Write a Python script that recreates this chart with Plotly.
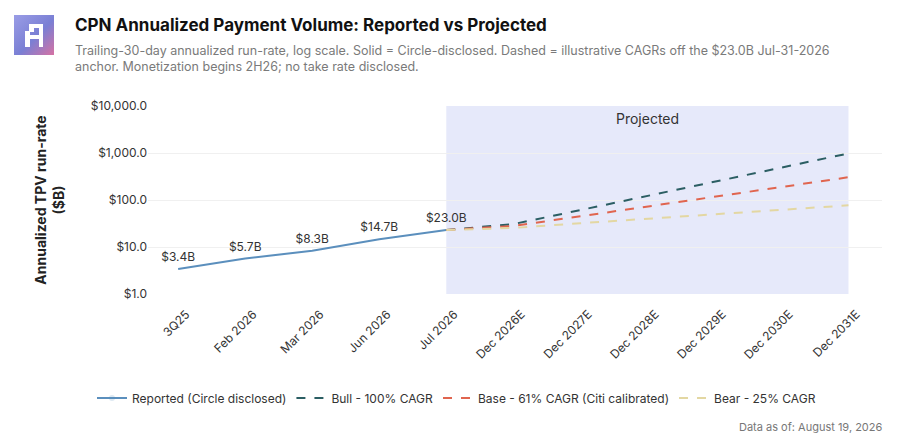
import base64
import plotly.graph_objects as go

# categories on the x axis
periods = ["3Q25", "Feb 2026", "Mar 2026", "Jun 2026", "Jul 2026",
           "Dec 2026E", "Dec 2027E", "Dec 2028E", "Dec 2029E", "Dec 2030E", "Dec 2031E"]

# reported run-rate ($B)
reported_x = periods[:5]
reported_y = [3.4, 5.7, 8.3, 14.7, 23.0]
reported_labels = ["$3.4B", "$5.7B", "$8.3B", "$14.7B", "$23.0B"]

# projected scenarios, anchored at Jul 2026
proj_x = periods[4:]
bull_y = [23.0, 30.7, 61.0, 123.0, 245.0, 490.0, 980.0]
base_y = [23.0, 28.1, 45.0, 73.0, 118.0, 190.0, 305.0]
bear_y = [23.0, 25.4, 32.0, 40.0, 50.0, 62.0, 77.0]

FONT = "Inter"

# plot area in pixels (used to place header / footer in paper coords)
L, R, T, B = 148, 882, 106, 294
def px(x):
    return (x - L) / (R - L)
def py(y):
    return (B - y) / (B - T)

fig = go.Figure()

fig.add_trace(go.Scatter(
    x=reported_x, y=reported_y, mode="lines+markers+text",
    name="Reported (Circle disclosed)",
    line=dict(color="#5b8fbd", width=2),
    marker=dict(size=6, opacity=0),
    text=reported_labels, textposition="top center",
    textfont=dict(size=12, color="#333333"),
))
fig.add_trace(go.Scatter(
    x=proj_x, y=bull_y, mode="lines", name="Bull - 100% CAGR",
    line=dict(color="#2b5e63", width=2, dash="dash"),
))
fig.add_trace(go.Scatter(
    x=proj_x, y=base_y, mode="lines", name="Base - 61% CAGR (Citi calibrated)",
    line=dict(color="#e0654f", width=2, dash="dash"),
))
fig.add_trace(go.Scatter(
    x=proj_x, y=bear_y, mode="lines", name="Bear - 25% CAGR",
    line=dict(color="#e3d7a2", width=2, dash="dash"),
))

# shaded projection window
fig.add_shape(type="rect", xref="x", yref="paper",
              x0=periods[4], x1=periods[-1], y0=0, y1=1,
              fillcolor="#e6e9fa", line=dict(width=0), layer="below")

fig.add_annotation(x=7.0, y=1, xref="x", yref="paper", yanchor="top", yshift=-2,
                   text="Projected", showarrow=False,
                   font=dict(family=FONT, size=14, color="#333333"))

# header
fig.add_annotation(x=px(73), y=py(25), xref="paper", yref="paper",
                   xanchor="left", yanchor="middle", showarrow=False,
                   text="<b>CPN Annualized Payment Volume: Reported vs Projected</b>",
                   font=dict(family=FONT, size=17, color="#111111"))
fig.add_annotation(x=px(73), y=py(58), xref="paper", yref="paper",
                   xanchor="left", yanchor="middle", align="left", showarrow=False,
                   text=("Trailing-30-day annualized run-rate, log scale. Solid = Circle-disclosed. "
                         "Dashed = illustrative CAGRs off the $23.0B Jul-31-2026<br>"
                         "anchor. Monetization begins 2H26; no take rate disclosed."),
                   font=dict(family=FONT, size=12.5, color="#7a7a7a"))
fig.add_annotation(x=px(885), y=py(427), xref="paper", yref="paper",
                   xanchor="right", yanchor="middle", showarrow=False,
                   text="Data as of: August 19, 2026",
                   font=dict(family=FONT, size=11, color="#777777"))

# logo
logo_svg = """<svg xmlns='http://www.w3.org/2000/svg' width='40' height='40' viewBox='0 0 40 40'>
<defs><linearGradient id='g' x1='0' y1='0' x2='1' y2='1'>
<stop offset='0' stop-color='#9a9de6'/><stop offset='0.55' stop-color='#7a7fd4'/>
<stop offset='1' stop-color='#d672a3'/></linearGradient></defs>
<rect width='40' height='40' fill='url(#g)'/>
<path d='M15 9 H29 V32 H25 V24 H16 V32 H11 V16 H15 Z M16 17 V20 H25 V13 H20 V17 Z' fill='white'/>
</svg>"""
fig.add_layout_image(
    source="data:image/svg+xml;base64," + base64.b64encode(logo_svg.encode()).decode(),
    xref="paper", yref="paper", x=px(14), y=py(15),
    sizex=40 / (R - L), sizey=40 / (B - T), xanchor="left", yanchor="top", sizing="stretch")

fig.update_layout(
    width=913, height=448,
    margin=dict(l=L, r=913 - R, t=T, b=448 - B),
    paper_bgcolor="white", plot_bgcolor="white",
    font=dict(family=FONT, size=12, color="#333333"),
    showlegend=True,
    legend=dict(orientation="h", xref="container", yref="container",
                x=0.5, y=1 - 398 / 448, xanchor="center", yanchor="middle",
                font=dict(family=FONT, size=12, color="#333333"),
                itemwidth=30),
)
fig.update_xaxes(type="category", categoryorder="array", categoryarray=periods,
                 range=[-0.45, 10.5], tickangle=-45, showgrid=False, automargin=False,
                 showline=False, ticks="", ticklabelstandoff=10, ticklabelshift=8,
                 tickfont=dict(size=12, color="#333333"))
fig.update_yaxes(type="log", range=[0, 4], tickvals=[1, 10, 100, 1000, 10000],
                 tickformat="$,.1f", showgrid=True, gridcolor="#f0f0f0", zeroline=False,
                 ticks="", tickfont=dict(size=12, color="#333333"), automargin=False,
                 title=dict(text="<b>Annualized TPV run-rate<br>($B)</b>",
                            font=dict(family=FONT, size=14, color="#222222"), standoff=22))

# page has a default 8px body margin; drop it so the figure sits at 0,0
fig.write_html("out.html", config={"displayModeBar": False},
               post_script="document.body.style.margin='0';")
